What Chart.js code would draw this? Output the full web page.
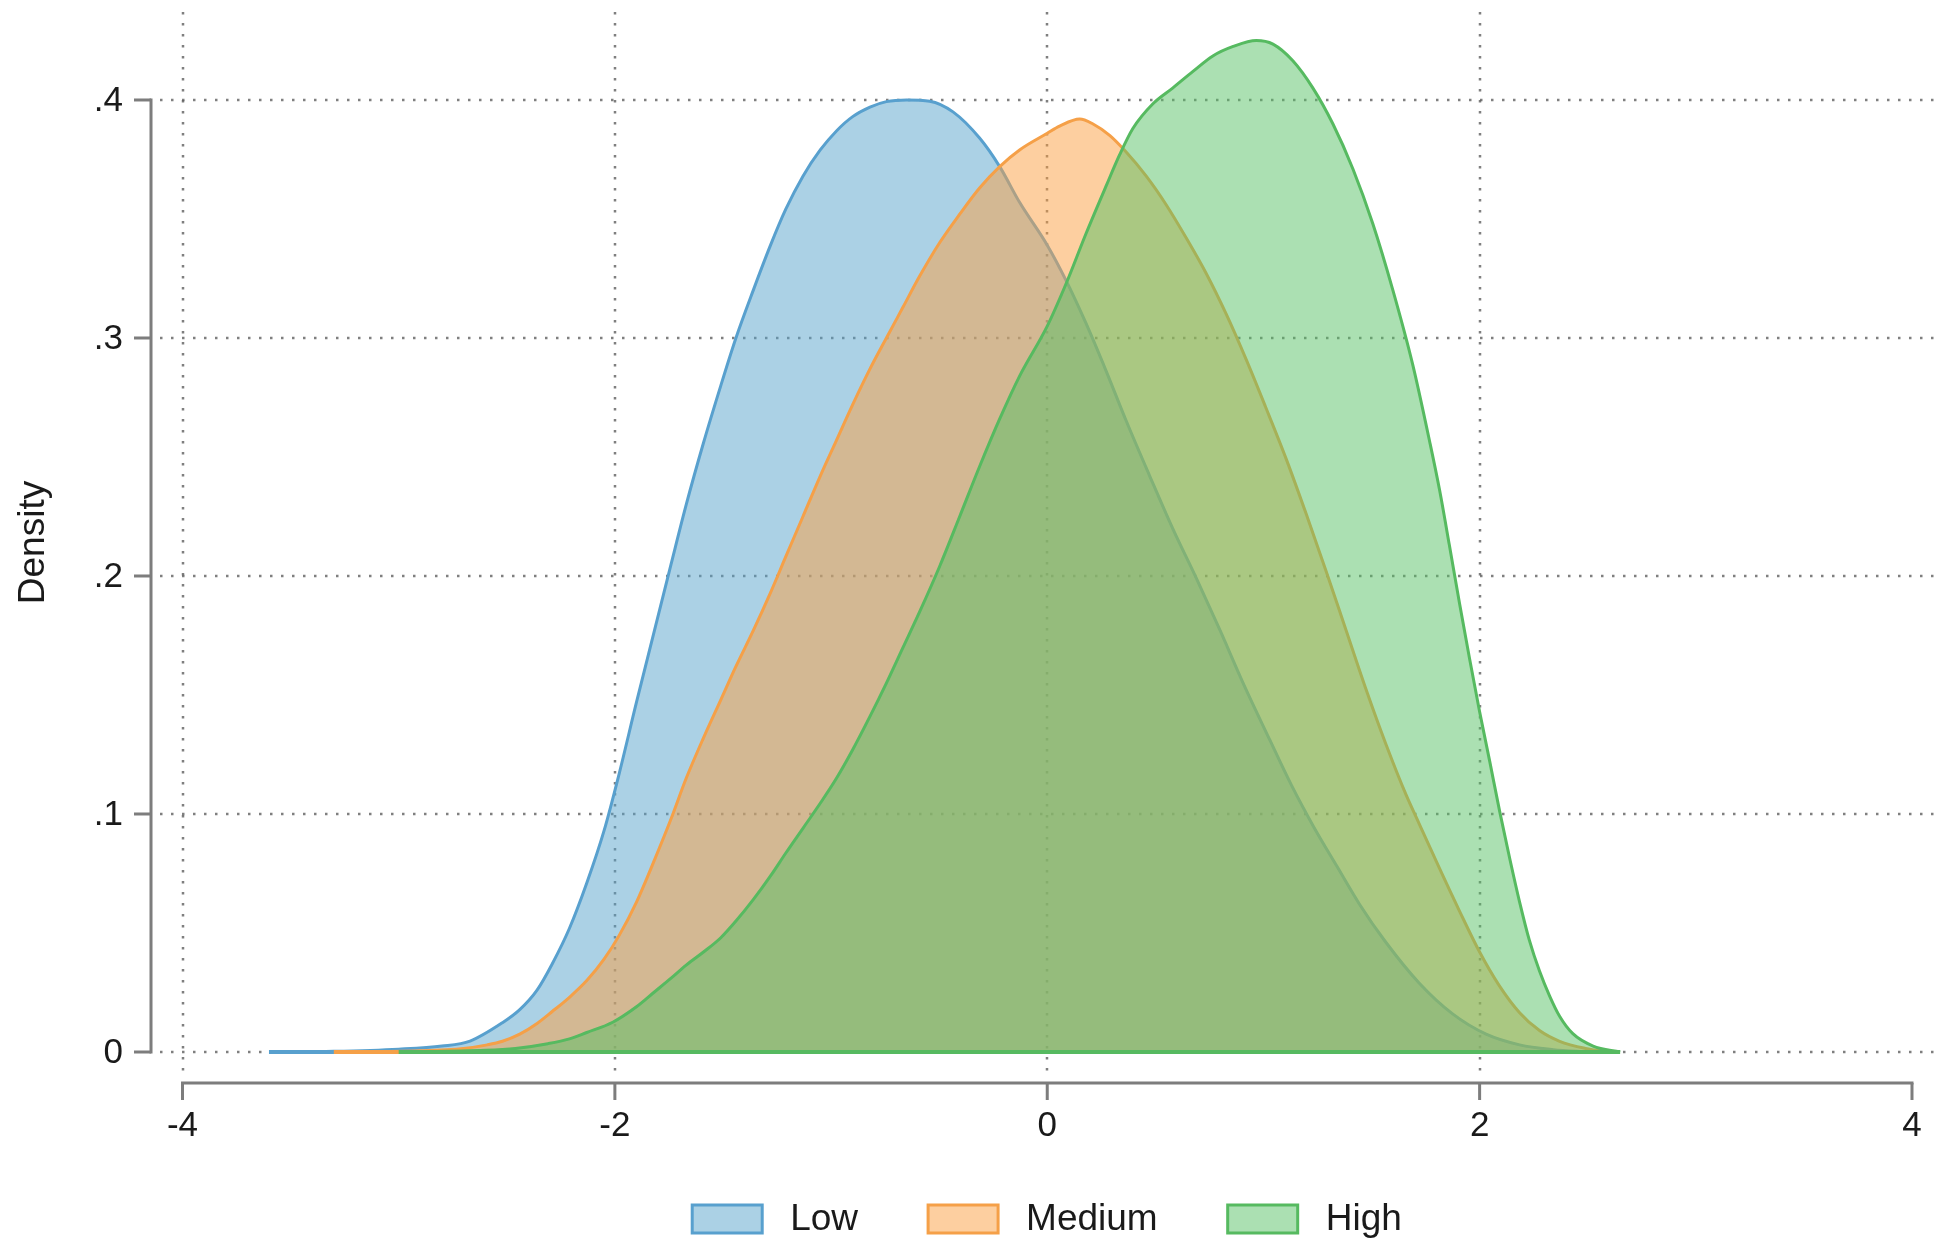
<!DOCTYPE html>
<html>
<head>
<meta charset="utf-8">
<script src="https://cdn.jsdelivr.net/npm/chart.js@4.4.1/dist/chart.umd.min.js"></script>
<style>
html,body{margin:0;padding:0;background:#ffffff;}
#wrap{width:1934px;height:1239px;position:relative;}
</style>
</head>
<body>
<div id="wrap"><canvas id="c" width="1934" height="1239"></canvas></div>
<script>
// ---------- data ----------
const seriesNames = ['Low', 'Medium', 'High'];

const lowX = [-3.6, -3.3, -3.0, -2.8, -2.67, -2.52, -2.44, -2.36, -2.29, -2.21, -2.13, -2.05, -1.98, -1.90, -1.82, -1.74, -1.67, -1.59, -1.51, -1.44, -1.36, -1.28, -1.21, -1.13, -1.05, -0.975, -0.90, -0.82, -0.744, -0.65, -0.544, -0.436, -0.313, -0.22, -0.128, 0, 0.088, 0.18, 0.273, 0.366, 0.474, 0.58, 0.69, 0.80, 0.906, 1.03, 1.13, 1.23, 1.34, 1.445, 1.567, 1.72, 1.875, 2.03, 2.185, 2.34, 2.5];
const lowY = [0, 0.0003, 0.0012, 0.0025, 0.0046, 0.0123, 0.0178, 0.026, 0.037, 0.052, 0.071, 0.093, 0.117, 0.147, 0.176, 0.205, 0.230, 0.256, 0.280, 0.300, 0.320, 0.339, 0.354, 0.368, 0.379, 0.387, 0.393, 0.397, 0.3993, 0.400, 0.3995, 0.395, 0.384, 0.372, 0.357, 0.339, 0.324, 0.306, 0.286, 0.265, 0.242, 0.220, 0.199, 0.177, 0.155, 0.131, 0.112, 0.095, 0.078, 0.062, 0.046, 0.029, 0.016, 0.0075, 0.003, 0.001, 0];

const medX = [-3.3, -2.9, -2.7, -2.59, -2.52, -2.44, -2.36, -2.29, -2.21, -2.13, -2.05, -1.98, -1.90, -1.82, -1.74, -1.67, -1.59, -1.51, -1.44, -1.36, -1.28, -1.21, -1.13, -1.05, -0.975, -0.90, -0.82, -0.744, -0.667, -0.59, -0.498, -0.405, -0.313, -0.22, -0.128, 0, 0.057, 0.15, 0.21, 0.29, 0.366, 0.458, 0.55, 0.643, 0.736, 0.828, 0.92, 1.01, 1.106, 1.198, 1.29, 1.383, 1.476, 1.568, 1.66, 1.72, 1.815, 1.908, 2.0, 2.09, 2.185, 2.277, 2.37, 2.49, 2.6];
const medY = [0, 0.0005, 0.0015, 0.003, 0.0045, 0.0075, 0.012, 0.017, 0.023, 0.030, 0.039, 0.049, 0.063, 0.080, 0.098, 0.115, 0.132, 0.148, 0.162, 0.177, 0.193, 0.208, 0.225, 0.242, 0.257, 0.272, 0.287, 0.300, 0.313, 0.326, 0.340, 0.352, 0.363, 0.372, 0.379, 0.386, 0.389, 0.392, 0.390, 0.385, 0.378, 0.368, 0.356, 0.342, 0.327, 0.310, 0.291, 0.271, 0.249, 0.226, 0.202, 0.177, 0.152, 0.129, 0.108, 0.096, 0.077, 0.059, 0.042, 0.028, 0.0165, 0.009, 0.0045, 0.0015, 0];

const highX = [-3.0, -2.6, -2.46, -2.31, -2.21, -2.13, -2.01, -1.90, -1.82, -1.74, -1.67, -1.59, -1.51, -1.44, -1.36, -1.28, -1.21, -1.13, -1.05, -0.975, -0.90, -0.82, -0.744, -0.667, -0.59, -0.498, -0.405, -0.313, -0.22, -0.128, 0, 0.088, 0.18, 0.273, 0.335, 0.396, 0.49, 0.58, 0.674, 0.766, 0.86, 0.967, 1.044, 1.136, 1.229, 1.321, 1.414, 1.506, 1.599, 1.69, 1.77, 1.815, 1.86, 1.908, 1.954, 2.0, 2.047, 2.093, 2.14, 2.185, 2.23, 2.277, 2.324, 2.37, 2.43, 2.525, 2.65];
const highY = [0, 0.0007, 0.0015, 0.0035, 0.0055, 0.0082, 0.0125, 0.019, 0.025, 0.031, 0.0365, 0.042, 0.048, 0.055, 0.064, 0.074, 0.0835, 0.094, 0.1045, 0.115, 0.127, 0.141, 0.155, 0.170, 0.185, 0.204, 0.225, 0.246, 0.266, 0.284, 0.305, 0.323, 0.344, 0.364, 0.377, 0.388, 0.3985, 0.405, 0.412, 0.4185, 0.4225, 0.425, 0.4235, 0.4165, 0.405, 0.390, 0.371, 0.348, 0.320, 0.289, 0.256, 0.236, 0.213, 0.188, 0.165, 0.143, 0.122, 0.101, 0.081, 0.063, 0.047, 0.034, 0.0235, 0.015, 0.0078, 0.0025, 0];

const xTickValues = [-4, -2, 0, 2, 4];
const xTickLabels = ['-4', '-2', '0', '2', '4'];
const xGridValues = [-4, -2, 0, 2];
const yTickValues = [0, 0.1, 0.2, 0.3, 0.4];
const yTickLabels = ['0', '.1', '.2', '.3', '.4'];
const yTitle = 'Density';

// ---------- styles ----------
const seriesStyle = {
  Low:    { line: 'rgb(88,160,206)',  fill: 'rgba(87,163,203,0.5)' },
  Medium: { line: 'rgb(245,160,72)',  fill: 'rgba(251,159,65,0.5)' },
  High:   { line: 'rgb(86,186,96)',   fill: 'rgba(87,193,101,0.5)' }
};
const seriesData = { Low: [lowX, lowY], Medium: [medX, medY], High: [highX, highY] };
const FONT = '"Liberation Sans", Arial, sans-serif';
const AXIS_COLOR = '#7d7d7d';

const toPts = (xs, ys) => xs.map((x, i) => ({ x: x, y: ys[i] }));

// dataset index 0 is drawn last (on top): High on top
const drawOrder = ['High', 'Medium', 'Low'];
const datasets = drawOrder.map(name => ({
  label: name,
  data: toPts(seriesData[name][0], seriesData[name][1]),
  borderColor: seriesStyle[name].line,
  backgroundColor: seriesStyle[name].fill,
  borderWidth: 3,
  fill: 'origin',
  pointRadius: 0,
  cubicInterpolationMode: 'monotone'
}));

const stataPlugin = {
  id: 'stata',
  beforeDatasetsDraw(chart) {
    const { ctx, chartArea: a, scales: { x, y } } = chart;
    ctx.save();
    ctx.strokeStyle = 'rgba(95,95,95,0.8)';
    ctx.lineWidth = 2.5;
    ctx.setLineDash([2.5, 8.5]);
    xGridValues.forEach(v => {
      const px = Math.round(x.getPixelForValue(v));
      ctx.beginPath(); ctx.moveTo(px, a.top); ctx.lineTo(px, a.bottom); ctx.stroke();
    });
    yTickValues.forEach(v => {
      const py = Math.round(y.getPixelForValue(v));
      ctx.beginPath(); ctx.moveTo(a.left, py); ctx.lineTo(a.right, py); ctx.stroke();
    });
    ctx.restore();
  },
  afterDatasetsDraw(chart) {
    const { ctx, scales: { x, y } } = chart;
    ctx.save();
    const py = y.getPixelForValue(0);
    seriesNames.forEach(name => {
      const xs = seriesData[name][0];
      ctx.strokeStyle = seriesStyle[name].line;
      ctx.lineWidth = 4;
      ctx.beginPath();
      ctx.moveTo(x.getPixelForValue(xs[0]), py);
      ctx.lineTo(x.getPixelForValue(xs[xs.length - 1]), py);
      ctx.stroke();
    });
    ctx.restore();
  },
  afterDraw(chart) {
    const { ctx, chartArea: a, scales: { x, y } } = chart;
    ctx.save();
    // y axis
    const ax = a.left - 9;
    ctx.strokeStyle = AXIS_COLOR;
    ctx.lineWidth = 3;
    ctx.lineCap = 'butt';
    ctx.beginPath();
    ctx.moveTo(ax, y.getPixelForValue(yTickValues[yTickValues.length - 1]) - 1.5);
    ctx.lineTo(ax, y.getPixelForValue(yTickValues[0]) + 1.5);
    ctx.stroke();
    yTickValues.forEach(v => {
      const py = y.getPixelForValue(v);
      ctx.beginPath(); ctx.moveTo(ax - 17, py); ctx.lineTo(ax, py); ctx.stroke();
    });
    // x axis
    const ay = a.bottom + 10;
    ctx.beginPath();
    ctx.moveTo(x.getPixelForValue(xTickValues[0]) - 1.5, ay);
    ctx.lineTo(x.getPixelForValue(xTickValues[xTickValues.length - 1]) + 1.5, ay);
    ctx.stroke();
    xTickValues.forEach(v => {
      const px = x.getPixelForValue(v);
      ctx.beginPath(); ctx.moveTo(px, ay); ctx.lineTo(px, ay + 17); ctx.stroke();
    });
    // tick labels
    ctx.fillStyle = '#1a1a1a';
    ctx.font = '35px ' + FONT;
    ctx.textAlign = 'right';
    ctx.textBaseline = 'middle';
    yTickValues.forEach((v, i) => {
      ctx.fillText(yTickLabels[i], ax - 28, y.getPixelForValue(v) + 1);
    });
    ctx.textAlign = 'center';
    xTickValues.forEach((v, i) => {
      ctx.fillText(xTickLabels[i], x.getPixelForValue(v), ay + 43);
    });
    // y title
    ctx.font = '37px ' + FONT;
    ctx.save();
    ctx.translate(34, (a.top + a.bottom) / 2);
    ctx.rotate(-Math.PI / 2);
    ctx.textAlign = 'center';
    ctx.textBaseline = 'middle';
    ctx.fillText(yTitle, 0, 0);
    ctx.restore();
    // legend
    const boxW = 70, boxH = 28, gap = 28, itemGap = 70;
    ctx.font = '37px ' + FONT;
    const widths = seriesNames.map(n => ctx.measureText(n).width);
    const total = seriesNames.length * (boxW + gap) + widths.reduce((s, w) => s + w, 0) + (seriesNames.length - 1) * itemGap;
    let lx = (a.left + a.right) / 2 - total / 2;
    const top = 1205;
    seriesNames.forEach((n, i) => {
      ctx.fillStyle = '#ffffff';
      ctx.fillRect(lx, top, boxW, boxH);
      ctx.fillStyle = seriesStyle[n].fill;
      ctx.fillRect(lx, top, boxW, boxH);
      ctx.strokeStyle = seriesStyle[n].line;
      ctx.lineWidth = 3;
      ctx.strokeRect(lx, top, boxW, boxH);
      ctx.fillStyle = '#1a1a1a';
      ctx.textAlign = 'left';
      ctx.textBaseline = 'middle';
      ctx.fillText(n, lx + boxW + gap, top + boxH / 2 + 1);
      lx += boxW + gap + widths[i] + itemGap;
    });
    ctx.restore();
  }
};

new Chart(document.getElementById('c'), {
  type: 'line',
  data: { datasets: datasets },
  options: {
    responsive: false,
    animation: false,
    devicePixelRatio: 1,
    layout: { padding: { left: 160, right: 0, top: 12, bottom: 166 } },
    plugins: { legend: { display: false }, tooltip: { enabled: false } },
    scales: {
      x: { type: 'linear', min: -4.1041, max: 4.1018, display: false },
      y: { type: 'linear', min: -0.008824, max: 0.43697, display: false }
    }
  },
  plugins: [stataPlugin]
});
</script>
</body>
</html>
